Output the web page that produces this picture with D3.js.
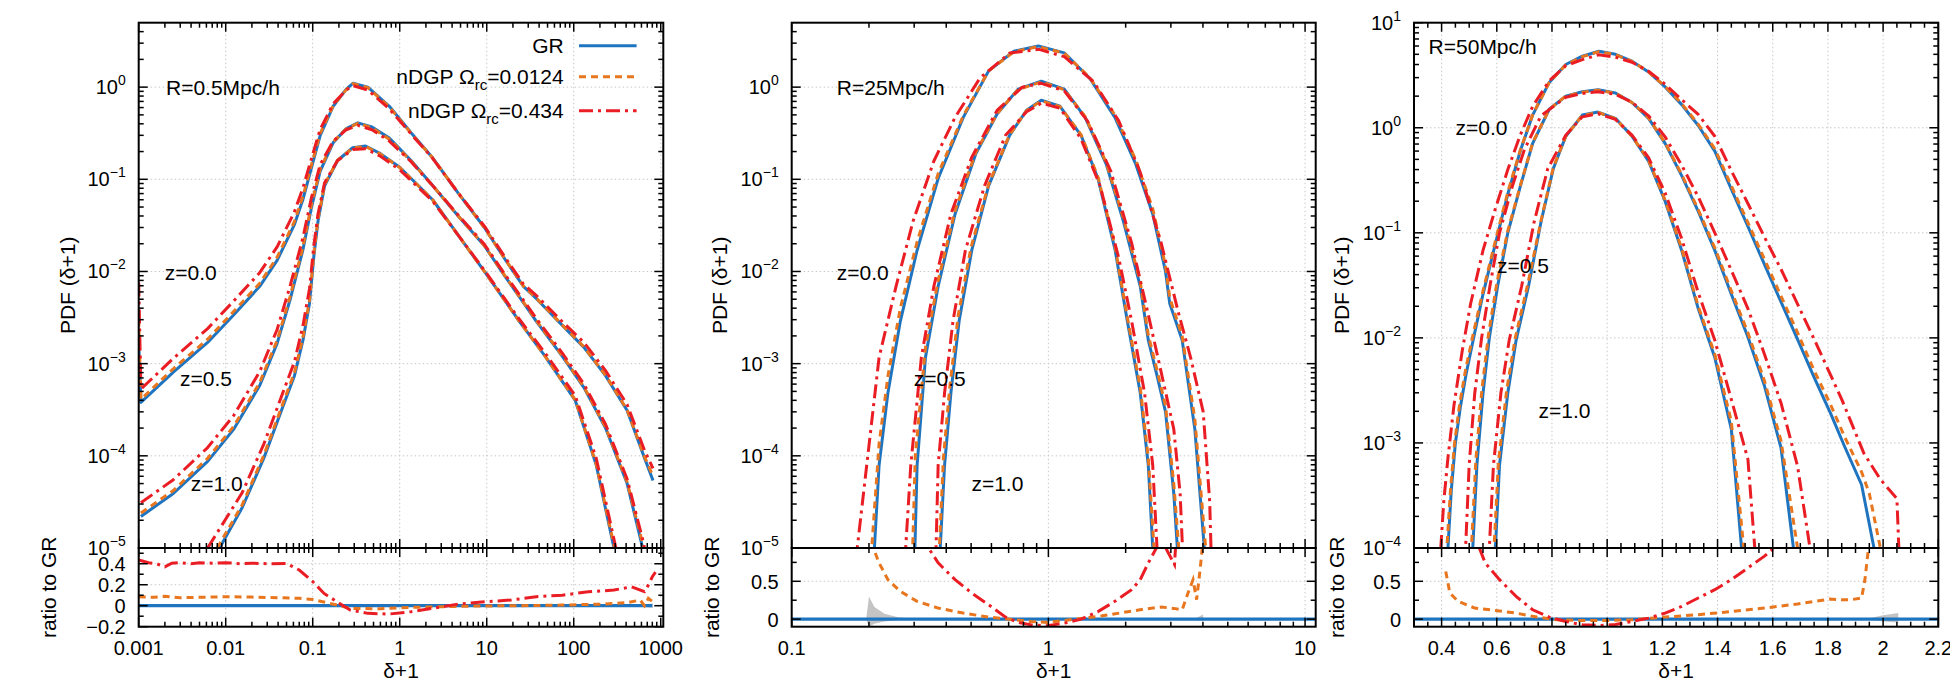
<!DOCTYPE html>
<html><head><meta charset="utf-8">
<script src="https://cdn.jsdelivr.net/npm/d3@7"></script>
<style>
body{margin:0;background:#fff}
svg{display:block}
text{font-family:"Liberation Sans",Arial,Helvetica,sans-serif;fill:#000}
</style></head>
<body><svg id="c" width="1950" height="682"></svg>
<script>
// ---------------- DATA ----------------
const seriesNames = ["GR", "nDGP Ω_rc=0.0124", "nDGP Ω_rc=0.434"];
const panelTitles = ["R=0.5Mpc/h", "R=25Mpc/h", "R=50Mpc/h"];
const zLabels = ["z=0.0", "z=0.5", "z=1.0"];

const p1_xticks = [0.001, 0.01, 0.1, 1, 10, 100, 1000];
const p1_xlabels = ["0.001", "0.01", "0.1", "1", "10", "100", "1000"];
const p2_xticks = [0.1, 1, 10];
const p2_xlabels = ["0.1", "1", "10"];
const p3_xticks = [0.4, 0.6, 0.8, 1, 1.2, 1.4, 1.6, 1.8, 2, 2.2];
const p3_xlabels = ["0.4", "0.6", "0.8", "1", "1.2", "1.4", "1.6", "1.8", "2", "2.2"];
const p12_yexp = [-5, -4, -3, -2, -1, 0];
const p3_yexp = [-4, -3, -2, -1, 0, 1];
const p1_rticks = [-0.2, 0, 0.2, 0.4];
const p1_rlabels = ["−0.2", "0", "0.2", "0.4"];
const p23_rticks = [0, 0.5];
const p23_rlabels = ["0", "0.5"];

// Panel 1 (R=0.5 Mpc/h): [delta+1, PDF]
const p1_z00_gr = [[0.001,1.7e-3],[0.00106,3.8e-4],[0.0025,8.1e-4],[0.0062,1.7e-3],[0.0124,3.4e-3],[0.0246,6.9e-3],[0.039,0.0132],[0.0614,0.032],[0.077,0.06],[0.097,0.135],[0.122,0.3],[0.172,0.62],[0.243,0.95],[0.29,1.1],[0.43,1.0],[0.76,0.62],[1.35,0.32],[2.4,0.17],[4.7,0.071],[9.4,0.03],[16.7,0.013],[26.4,6.9e-3],[37,5.1e-3],[74,2.6e-3],[131,1.5e-3],[232,7.4e-4],[411,3.1e-4],[650,9.5e-5],[815,5.4e-5]];
const p1_z00_n1 = [[0.001,3e-3],[0.00106,4.1e-4],[0.0025,8.8e-4],[0.0062,1.84e-3],[0.0124,3.7e-3],[0.0246,7.45e-3],[0.039,0.0143],[0.0614,0.0345],[0.077,0.065],[0.097,0.145],[0.122,0.315],[0.172,0.63],[0.243,0.94],[0.29,1.09],[0.43,0.985],[0.76,0.61],[1.35,0.316],[2.4,0.17],[4.7,0.071],[9.4,0.0298],[16.7,0.0131],[26.4,6.95e-3],[37,5.15e-3],[74,2.62e-3],[131,1.52e-3],[232,7.5e-4],[411,3.15e-4],[650,9.8e-5],[815,6e-5]];
const p1_z00_n2 = [[0.001,7.6e-3],[0.00106,5.3e-4],[0.0025,1.14e-3],[0.0062,2.4e-3],[0.0124,4.8e-3],[0.0246,9.7e-3],[0.039,0.0185],[0.0614,0.044],[0.077,0.08],[0.097,0.17],[0.122,0.35],[0.172,0.66],[0.243,0.93],[0.29,1.04],[0.43,0.93],[0.76,0.58],[1.35,0.31],[2.4,0.168],[4.7,0.071],[9.4,0.031],[16.7,0.0137],[26.4,7.3e-3],[37,5.5e-3],[74,2.85e-3],[131,1.7e-3],[232,8.4e-4],[411,3.6e-4],[650,1.15e-4],[815,7.3e-5]];
const p1_z05_gr = [[0.00106,2.2e-5],[0.0025,3.9e-5],[0.0062,8.7e-5],[0.0124,1.95e-4],[0.0246,5.8e-4],[0.039,1.66e-3],[0.0548,4.9e-3],[0.077,0.017],[0.097,0.05],[0.122,0.123],[0.172,0.25],[0.243,0.355],[0.33,0.41],[0.48,0.37],[0.76,0.28],[1.35,0.16],[2.4,0.085],[4.7,0.04],[9.4,0.019],[16.7,8.5e-3],[26.4,4.6e-3],[37,2.9e-3],[74,1.2e-3],[131,5.5e-4],[232,2e-4],[411,5e-5],[620,1e-5],[700,4e-6]];
const p1_z05_n1 = [[0.00106,2.4e-5],[0.0025,4.2e-5],[0.0062,9.4e-5],[0.0124,2.1e-4],[0.0246,6.25e-4],[0.039,1.79e-3],[0.0548,5.3e-3],[0.077,0.0183],[0.097,0.054],[0.122,0.13],[0.172,0.255],[0.243,0.353],[0.33,0.405],[0.48,0.362],[0.76,0.272],[1.35,0.158],[2.4,0.085],[4.7,0.04],[9.4,0.019],[16.7,8.6e-3],[26.4,4.65e-3],[37,2.95e-3],[74,1.22e-3],[131,5.6e-4],[232,2.05e-4],[411,5.2e-5],[630,1.05e-5],[710,4.2e-6]];
const p1_z05_n2 = [[0.00106,3.1e-5],[0.0025,5.5e-5],[0.0062,1.23e-4],[0.0124,2.75e-4],[0.0246,8.2e-4],[0.039,2.35e-3],[0.0548,6.9e-3],[0.077,0.023],[0.097,0.064],[0.122,0.145],[0.172,0.26],[0.243,0.345],[0.33,0.385],[0.48,0.345],[0.76,0.26],[1.35,0.155],[2.4,0.085],[4.7,0.041],[9.4,0.0197],[16.7,8.9e-3],[26.4,4.9e-3],[37,3.1e-3],[74,1.3e-3],[131,6e-4],[232,2.2e-4],[411,5.6e-5],[640,1.1e-5],[720,4.5e-6]];
const p1_z10_gr = [[0.0085,1e-5],[0.0155,2.75e-5],[0.0275,9.5e-5],[0.0437,3.1e-4],[0.0617,7.4e-4],[0.0773,1.8e-3],[0.0918,4.5e-3],[0.103,0.0145],[0.115,0.035],[0.137,0.085],[0.193,0.16],[0.288,0.22],[0.405,0.23],[0.6,0.19],[1.0,0.135],[2.39,0.06],[4.74,0.0245],[9.4,0.01],[23.6,2.9e-3],[47,1.2e-3],[104,4e-4],[181,8e-5],[290,1e-5],[320,4e-6]];
const p1_z10_n1 = [[0.008,1e-5],[0.0155,2.95e-5],[0.0275,1.02e-4],[0.0437,3.35e-4],[0.0617,8e-4],[0.0773,1.95e-3],[0.0918,4.85e-3],[0.103,0.0155],[0.115,0.037],[0.137,0.088],[0.193,0.161],[0.288,0.218],[0.405,0.227],[0.6,0.188],[1.0,0.134],[2.39,0.06],[4.74,0.0245],[9.4,0.01],[23.6,2.9e-3],[47,1.2e-3],[104,4.05e-4],[181,8.2e-5],[295,1e-5],[325,4e-6]];
const p1_z10_n2 = [[0.0062,1e-5],[0.0155,4e-5],[0.0275,1.35e-4],[0.0437,4.4e-4],[0.0617,1.05e-3],[0.0773,2.6e-3],[0.0918,6.5e-3],[0.103,0.019],[0.115,0.042],[0.137,0.092],[0.193,0.16],[0.288,0.21],[0.405,0.215],[0.6,0.178],[1.0,0.127],[2.39,0.058],[4.74,0.0245],[9.4,0.0103],[23.6,3.05e-3],[47,1.3e-3],[104,4.5e-4],[181,9.5e-5],[305,1e-5],[330,4e-6]];

// Panel 2 (R=25 Mpc/h)
const p2_z00_gr = [[0.205,1e-6],[0.21,1e-5],[0.219,7.9e-5],[0.237,4.8e-4],[0.265,2.9e-3],[0.308,0.017],[0.372,0.102],[0.466,0.47],[0.585,1.5],[0.734,2.45],[0.914,2.8],[1.153,2.35],[1.449,1.25],[1.816,0.47],[2.19,0.146],[2.55,0.042],[2.86,0.01],[2.97,4.5e-3],[3.32,1.8e-3],[3.72,1.95e-4],[4.05,1e-5],[4.1,1e-6]];
const p2_z00_n1 = [[0.2,1e-6],[0.205,1e-5],[0.219,1.35e-4],[0.237,7.3e-4],[0.265,4e-3],[0.308,0.021],[0.372,0.115],[0.466,0.49],[0.585,1.5],[0.734,2.42],[0.914,2.75],[1.153,2.33],[1.449,1.27],[1.816,0.5],[2.19,0.162],[2.55,0.048],[2.86,0.0115],[2.97,5.2e-3],[3.32,2e-3],[3.72,2.5e-4],[4.1,1e-5],[4.15,1e-6]];
const p2_z00_n2 = [[0.175,1e-6],[0.18,1e-5],[0.196,7.9e-5],[0.219,1.17e-3],[0.255,6.9e-3],[0.297,0.035],[0.358,0.158],[0.433,0.47],[0.542,1.26],[0.706,2.34],[0.92,2.57],[1.153,2.14],[1.5,1.15],[1.88,0.43],[2.27,0.123],[2.75,0.0204],[3.2,3.7e-3],[3.58,1.17e-3],[4.01,3e-4],[4.25,3.2e-5],[4.3,1e-5],[4.35,1e-6]];
const p2_z05_gr = [[0.298,1e-6],[0.302,1e-5],[0.308,7.9e-5],[0.332,1.17e-3],[0.372,6.9e-3],[0.433,0.042],[0.522,0.19],[0.631,0.51],[0.762,0.95],[0.938,1.16],[1.153,0.95],[1.39,0.47],[1.68,0.146],[1.96,0.035],[2.28,6.9e-3],[2.45,1.8e-3],[2.65,7.4e-4],[2.86,3e-4],[3.08,3.9e-5],[3.18,1e-5],[3.22,1e-6]];
const p2_z05_n1 = [[0.292,1e-6],[0.296,1e-5],[0.303,1e-4],[0.332,1.5e-3],[0.372,8e-3],[0.433,0.046],[0.522,0.198],[0.631,0.515],[0.762,0.94],[0.938,1.14],[1.153,0.94],[1.39,0.48],[1.68,0.152],[1.96,0.038],[2.28,7.7e-3],[2.45,2.05e-3],[2.65,8.5e-4],[2.86,3.5e-4],[3.08,5e-5],[3.22,1e-5],[3.26,1e-6]];
const p2_z05_n2 = [[0.275,1e-6],[0.278,1e-5],[0.291,7.9e-5],[0.32,1.17e-3],[0.358,6.9e-3],[0.417,0.042],[0.503,0.174],[0.631,0.56],[0.791,1.0],[0.938,1.1],[1.153,0.91],[1.42,0.43],[1.75,0.123],[2.11,0.0204],[2.45,3.4e-3],[2.75,8.1e-4],[3.08,1.95e-4],[3.26,3.9e-5],[3.33,1e-5],[3.38,1e-6]];
const p2_z10_gr = [[0.375,1e-6],[0.379,1e-5],[0.394,7.9e-5],[0.417,4.8e-4],[0.449,2.9e-3],[0.503,0.017],[0.585,0.085],[0.706,0.3],[0.822,0.56],[0.938,0.72],[1.11,0.62],[1.34,0.3],[1.56,0.102],[1.82,0.017],[2.03,2.9e-3],[2.28,4.8e-4],[2.45,7.9e-5],[2.55,1e-5],[2.6,1e-6]];
const p2_z10_n1 = [[0.372,1e-6],[0.376,1e-5],[0.39,9.5e-5],[0.413,5.6e-4],[0.445,3.3e-3],[0.5,0.0185],[0.585,0.088],[0.706,0.305],[0.822,0.555],[0.938,0.71],[1.11,0.615],[1.34,0.305],[1.56,0.106],[1.82,0.0185],[2.03,3.2e-3],[2.28,5.5e-4],[2.45,9.5e-5],[2.58,1e-5],[2.62,1e-6]];
const p2_z10_n2 = [[0.36,1e-6],[0.365,1e-5],[0.372,7.9e-5],[0.394,4.8e-4],[0.425,2.9e-3],[0.475,0.017],[0.564,0.085],[0.681,0.3],[0.822,0.54],[0.938,0.67],[1.11,0.59],[1.34,0.275],[1.59,0.085],[1.88,0.014],[2.11,2.9e-3],[2.37,4.8e-4],[2.55,7.9e-5],[2.65,1e-5],[2.7,1e-6]];

// Panel 3 (R=50 Mpc/h)
const p3_z00_gr = [[0.415,3e-5],[0.423,1e-4],[0.435,3.5e-4],[0.45,1e-3],[0.468,2.2e-3],[0.49,4.7e-3],[0.52,0.0112],[0.55,0.026],[0.595,0.079],[0.64,0.234],[0.685,0.6],[0.73,1.32],[0.79,2.7],[0.85,4.0],[0.91,4.8],[0.97,5.35],[1.03,5.0],[1.09,4.3],[1.15,3.4],[1.21,2.45],[1.27,1.66],[1.33,1.05],[1.39,0.6],[1.45,0.26],[1.51,0.115],[1.57,0.05],[1.63,0.022],[1.69,9.7e-3],[1.75,4.2e-3],[1.81,1.9e-3],[1.86,9.3e-4],[1.922,4e-4],[1.967,1e-4],[1.975,3e-5]];
const p3_z00_n1 = [[0.41,3e-5],[0.419,1e-4],[0.432,3.5e-4],[0.447,1e-3],[0.465,2.3e-3],[0.487,5e-3],[0.518,0.012],[0.55,0.028],[0.595,0.084],[0.64,0.245],[0.685,0.61],[0.73,1.33],[0.79,2.7],[0.85,3.97],[0.91,4.75],[0.97,5.3],[1.03,4.97],[1.09,4.28],[1.15,3.4],[1.21,2.47],[1.27,1.7],[1.33,1.08],[1.39,0.63],[1.45,0.28],[1.51,0.125],[1.57,0.056],[1.63,0.025],[1.69,0.0112],[1.75,4.9e-3],[1.81,2.3e-3],[1.86,1.15e-3],[1.922,5.3e-4],[1.95,3.3e-4],[1.99,1e-4],[2.0,3e-5]];
const p3_z00_n2 = [[0.39,3e-5],[0.397,1e-4],[0.408,2.8e-4],[0.423,7.2e-4],[0.445,2.3e-3],[0.475,7.6e-3],[0.505,0.021],[0.55,0.068],[0.595,0.17],[0.64,0.4],[0.685,0.85],[0.73,1.6],[0.79,2.8],[0.85,3.9],[0.91,4.45],[0.97,4.95],[1.03,4.7],[1.09,4.2],[1.15,3.45],[1.21,2.6],[1.27,1.85],[1.33,1.34],[1.39,0.83],[1.45,0.39],[1.51,0.19],[1.57,0.091],[1.63,0.045],[1.69,0.021],[1.765,8e-3],[1.85,2.6e-3],[1.93,8e-4],[1.99,4.5e-4],[2.05,2.95e-4],[2.057,1e-4],[2.06,3e-5]];
const p3_z05_gr = [[0.508,4e-5],[0.513,1e-4],[0.528,6.2e-4],[0.55,2.95e-3],[0.573,0.01],[0.603,0.031],[0.64,0.1],[0.685,0.275],[0.73,0.71],[0.79,1.5],[0.85,2.0],[0.91,2.2],[0.967,2.3],[1.03,2.14],[1.09,1.74],[1.15,1.23],[1.21,0.71],[1.27,0.35],[1.33,0.16],[1.39,0.068],[1.45,0.026],[1.51,0.0102],[1.57,3.5e-3],[1.63,9e-4],[1.675,1e-4],[1.68,4e-5]];
const p3_z05_n1 = [[0.503,4e-5],[0.508,1e-4],[0.524,6.8e-4],[0.546,3.2e-3],[0.57,0.0108],[0.6,0.033],[0.64,0.105],[0.685,0.28],[0.73,0.72],[0.79,1.5],[0.85,2.0],[0.91,2.18],[0.967,2.28],[1.03,2.13],[1.09,1.74],[1.15,1.24],[1.21,0.72],[1.27,0.36],[1.33,0.166],[1.39,0.072],[1.45,0.028],[1.51,0.0112],[1.57,3.9e-3],[1.63,1.05e-3],[1.69,1e-4],[1.695,4e-5]];
const p3_z05_n2 = [[0.48,4e-5],[0.487,1e-4],[0.5,6.2e-4],[0.52,2.95e-3],[0.545,0.01],[0.575,0.031],[0.61,0.1],[0.655,0.27],[0.7,0.62],[0.76,1.3],[0.85,1.95],[0.91,2.12],[0.967,2.2],[1.03,2.08],[1.09,1.75],[1.15,1.3],[1.21,0.82],[1.27,0.44],[1.33,0.22],[1.39,0.1],[1.45,0.044],[1.51,0.019],[1.57,7e-3],[1.63,2.4e-3],[1.69,6e-4],[1.735,1e-4],[1.74,4e-5]];
const p3_z10_gr = [[0.59,4e-5],[0.595,1e-4],[0.61,6.2e-4],[0.64,3e-3],[0.67,9.5e-3],[0.715,0.031],[0.76,0.126],[0.805,0.41],[0.85,0.83],[0.91,1.32],[0.967,1.41],[1.03,1.23],[1.09,0.83],[1.15,0.48],[1.21,0.2],[1.27,0.068],[1.33,0.019],[1.39,6.5e-3],[1.45,1.35e-3],[1.487,1e-4],[1.49,4e-5]];
const p3_z10_n1 = [[0.585,4e-5],[0.59,1e-4],[0.606,6.6e-4],[0.636,3.2e-3],[0.667,0.01],[0.713,0.033],[0.76,0.13],[0.805,0.42],[0.85,0.83],[0.91,1.31],[0.967,1.4],[1.03,1.22],[1.09,0.83],[1.15,0.49],[1.21,0.205],[1.27,0.071],[1.33,0.02],[1.39,7e-3],[1.45,1.6e-3],[1.495,1e-4],[1.5,4e-5]];
const p3_z10_n2 = [[0.568,4e-5],[0.573,1e-4],[0.588,6.2e-4],[0.615,3e-3],[0.645,9.5e-3],[0.69,0.031],[0.735,0.126],[0.785,0.41],[0.85,0.85],[0.91,1.27],[0.967,1.36],[1.03,1.2],[1.09,0.85],[1.15,0.52],[1.21,0.24],[1.27,0.088],[1.33,0.027],[1.39,9.5e-3],[1.45,2.6e-3],[1.51,7e-4],[1.535,1e-4],[1.54,4e-5]];

// Ratio-to-GR panels: [delta+1, ratio]
const p1_ratio_gr = [[0.001,0],[800,0]];
const p1_ratio_n1 = [[0.001,0.086],[0.0015,0.08],[0.002,0.09],[0.003,0.076],[0.005,0.08],[0.01,0.086],[0.02,0.082],[0.04,0.076],[0.07,0.07],[0.1,0.06],[0.13,0.038],[0.19,0.006],[0.27,-0.025],[0.6,-0.029],[1.35,-0.016],[3,-0.01],[7.4,-0.003],[23,0],[74,0.006],[230,0.016],[410,0.029],[580,0.054],[650,0.0],[720,0.07],[810,0.038]];
const p1_ratio_n2 = [[0.001,0.435],[0.0013,0.41],[0.0016,0.40],[0.002,0.37],[0.0024,0.405],[0.003,0.41],[0.004,0.40],[0.005,0.41],[0.007,0.405],[0.01,0.41],[0.015,0.40],[0.02,0.405],[0.03,0.40],[0.05,0.403],[0.07,0.34],[0.1,0.23],[0.135,0.117],[0.19,0.038],[0.27,-0.041],[0.43,-0.073],[0.76,-0.079],[1.35,-0.057],[2.4,-0.025],[4.7,0.016],[9.4,0.038],[19,0.054],[37,0.086],[74,0.1],[147,0.133],[290,0.149],[460,0.181],[650,0.133],[720,0.197],[800,0.276],[870,0.32]];
const p1_band = [[300,0,0],[600,-0.01,0.012],[810,-0.02,0.02]];
const p2_ratio_gr = [[0.1,0],[11,0]];
const p2_ratio_n1 = [[0.2,1.5],[0.207,0.956],[0.219,0.743],[0.237,0.522],[0.265,0.367],[0.308,0.235],[0.372,0.146],[0.466,0.08],[0.585,0.027],[0.706,0],[0.853,-0.031],[0.99,-0.044],[1.154,-0.018],[1.343,0.009],[1.62,0.044],[1.96,0.088],[2.37,0.133],[2.75,0.16],[3.08,0.142],[3.32,0.124],[3.5,0.345],[3.66,0.52],[3.78,0.257],[3.9,0.655],[3.98,0.956],[4.05,1.5]];
const p2_ratio_n2 = [[0.32,1.5],[0.339,0.956],[0.372,0.743],[0.433,0.522],[0.503,0.345],[0.585,0.19],[0.681,0.027],[0.762,-0.044],[0.853,-0.075],[0.99,-0.088],[1.154,-0.053],[1.343,0],[1.56,0.1],[1.816,0.235],[2.11,0.39],[2.28,0.522],[2.45,0.743],[2.65,0.956],[2.75,1.6],[2.85,0.956],[3.1,0.72],[3.2,1.5]];
const p2_band_a = [[0.195,0,0],[0.2,-0.1,0.3],[0.21,-0.06,0.16],[0.23,-0.03,0.07],[0.26,-0.01,0.025],[0.3,0,0.005]];
const p2_band_b = [[3.7,0,0],[4.0,-0.02,0.06],[4.02,0,0]];
const p3_ratio_gr = [[0.3,0],[2.2,0]];
const p3_ratio_n1 = [[0.415,0.63],[0.43,0.345],[0.46,0.235],[0.52,0.146],[0.595,0.115],[0.67,0.08],[0.745,0.027],[0.82,-0.009],[0.91,-0.018],[1.0,-0.018],[1.09,-0.009],[1.21,0.027],[1.33,0.058],[1.45,0.1],[1.57,0.146],[1.69,0.2],[1.807,0.265],[1.85,0.255],[1.88,0.255],[1.922,0.278],[1.934,0.519],[1.945,0.874],[1.952,1.1]];
const p3_ratio_n2 = [[0.52,1.3],[0.535,0.956],[0.558,0.743],[0.61,0.522],[0.67,0.301],[0.73,0.124],[0.79,0.027],[0.85,-0.031],[0.91,-0.075],[0.97,-0.084],[1.03,-0.071],[1.09,-0.031],[1.15,0.013],[1.21,0.08],[1.27,0.168],[1.33,0.279],[1.39,0.389],[1.45,0.522],[1.51,0.677],[1.57,0.832],[1.64,1.05]];
const p3_band = [[1.934,0,0],[2.0,-0.03,0.05],[2.055,-0.045,0.08]];

// ---------------- LAYOUT / STYLE ----------------
const TOP = 22.7, MID = 548, BOT = 626.7;
const COL = ["#1f74c0", "#e8761e", "#ea1d24"];
const DASH = [null, "7,5", "14,5,3,5"];
const FS = 21;

const panels = [
  {id:1, left:138.7, right:663.3, xlog:true, xdom:[0.001,1070], xt:p1_xticks, xl:p1_xlabels,
   ydom:[1e-5,5], yexp:p12_yexp, rdom:[-0.2,0.55], rt:p1_rticks, rl:p1_rlabels, rminor:0.1,
   curves:[[p1_z00_gr,p1_z00_n1,p1_z00_n2],[p1_z05_gr,p1_z05_n1,p1_z05_n2],[p1_z10_gr,p1_z10_n1,p1_z10_n2]],
   ratios:[p1_ratio_gr,p1_ratio_n1,p1_ratio_n2], bands:[p1_band],
   title:[166,95], zpos:[[164.8,280],[180,386],[190.8,491]], pdfX:67, ratX:48},
  {id:2, left:791.7, right:1315.7, xlog:true, xdom:[0.1,11], xt:p2_xticks, xl:p2_xlabels,
   ydom:[1e-5,5], yexp:p12_yexp, rdom:[-0.1,0.94], rt:p23_rticks, rl:p23_rlabels, rminor:0.25,
   curves:[[p2_z00_gr,p2_z00_n1,p2_z00_n2],[p2_z05_gr,p2_z05_n1,p2_z05_n2],[p2_z10_gr,p2_z10_n1,p2_z10_n2]],
   ratios:[p2_ratio_gr,p2_ratio_n1,p2_ratio_n2], bands:[p2_band_a,p2_band_b],
   title:[836.8,95], zpos:[[836.8,280],[913.8,386],[971.4,491]], pdfX:719, ratX:711},
  {id:3, left:1414, right:1938.3, xlog:false, xdom:[0.3,2.2], xt:p3_xticks, xl:p3_xlabels,
   ydom:[1e-4,10], yexp:p3_yexp, rdom:[-0.1,0.94], rt:p23_rticks, rl:p23_rlabels, rminor:0.25,
   curves:[[p3_z00_gr,p3_z00_n1,p3_z00_n2],[p3_z05_gr,p3_z05_n1,p3_z05_n2],[p3_z10_gr,p3_z10_n1,p3_z10_n2]],
   ratios:[p3_ratio_gr,p3_ratio_n1,p3_ratio_n2], bands:[p3_band],
   title:[1428.6,54], zpos:[[1455.6,135],[1497,273],[1538.6,418]], pdfX:1341.5, ratX:1336}
];

const svg = d3.select("#c");
svg.append("rect").attr("width",1950).attr("height",682).attr("fill","#fff");
const defs = svg.append("defs");

function line(g,x1,y1,x2,y2,w,c,dash){
  const l = g.append("line").attr("x1",x1).attr("y1",y1).attr("x2",x2).attr("y2",y2)
    .attr("stroke",c||"#000").attr("stroke-width",w||1.5);
  if(dash) l.attr("stroke-dasharray",dash);
  return l;
}

panels.forEach((p,pi)=>{
  const g = svg.append("g");
  const x = (p.xlog ? d3.scaleLog() : d3.scaleLinear()).domain(p.xdom).range([p.left,p.right]);
  const ym = d3.scaleLog().domain(p.ydom).range([MID,TOP]);
  const yr = d3.scaleLinear().domain(p.rdom).range([BOT,MID]);
  const W = p.right-p.left;

  defs.append("clipPath").attr("id","cm"+p.id).append("rect")
    .attr("x",p.left).attr("y",TOP).attr("width",W).attr("height",MID-TOP);
  defs.append("clipPath").attr("id","cr"+p.id).append("rect")
    .attr("x",p.left).attr("y",MID).attr("width",W).attr("height",BOT-MID);

  // grid
  const gg = g.append("g");
  p.xt.forEach(v=>{const px=x(v); if(px>p.left+2 && px<p.right-2){
    line(gg,px,TOP,px,MID,1,"#c8c8c8","1.5,2.5"); line(gg,px,MID,px,BOT,1,"#c8c8c8","1.5,2.5");}});
  p.yexp.forEach(e=>{const py=ym(Math.pow(10,e)); if(py>TOP+2 && py<MID-2) line(gg,p.left,py,p.right,py,1,"#c8c8c8","1.5,2.5");});
  p.rt.forEach(v=>{const py=yr(v); if(py>MID+2 && py<BOT-2) line(gg,p.left,py,p.right,py,1,"#c8c8c8","1.5,2.5");});

  // ratio bands and curves
  const gr = g.append("g").attr("clip-path","url(#cr"+p.id+")");
  p.bands.forEach(b=>{
    gr.append("path").datum(b).attr("fill","#c4c4c4").attr("stroke","none")
      .attr("d", d3.area().x(d=>x(d[0])).y0(d=>yr(d[1])).y1(d=>yr(d[2])));
  });
  const rl = d3.line().x(d=>x(d[0])).y(d=>yr(d[1]));
  p.ratios.forEach((r,si)=>{
    const pa = gr.append("path").datum(r).attr("fill","none").attr("stroke",COL[si])
      .attr("stroke-width",si===0?3.2:3).attr("d",rl);
    if(DASH[si]) pa.attr("stroke-dasharray",DASH[si]);
  });

  // main curves
  const gm = g.append("g").attr("clip-path","url(#cm"+p.id+")");
  const ml = d3.line().x(d=>x(d[0])).y(d=>ym(d[1]));
  p.curves.forEach(zs=>{
    zs.forEach((c,si)=>{
      const pa = gm.append("path").datum(c).attr("fill","none").attr("stroke",COL[si])
        .attr("stroke-width",3).attr("stroke-linejoin","round").attr("d",ml);
      if(DASH[si]) pa.attr("stroke-dasharray",DASH[si]);
    });
  });

  // frames
  const gf = g.append("g");
  gf.append("rect").attr("x",p.left).attr("y",TOP).attr("width",W).attr("height",MID-TOP)
    .attr("fill","none").attr("stroke","#000").attr("stroke-width",2);
  gf.append("rect").attr("x",p.left).attr("y",MID).attr("width",W).attr("height",BOT-MID)
    .attr("fill","none").attr("stroke","#000").attr("stroke-width",2);

  const MJ=9, MN=5;
  let xmin = [];
  if(p.xlog){
    const e0=Math.floor(Math.log10(p.xdom[0])), e1=Math.ceil(Math.log10(p.xdom[1]));
    for(let e=e0;e<e1;e++) for(let m=2;m<=9;m++){const v=m*Math.pow(10,e); if(v>p.xdom[0]&&v<p.xdom[1]) xmin.push(v);}
  } else {
    for(let k=6;k<44;k++){const v=k*0.05; if(!p.xt.some(t=>Math.abs(t-v)<1e-6)) xmin.push(v);}
  }
  const xtick=(v,len)=>{const px=x(v);
    line(gf,px,MID,px,MID-len,1.5); line(gf,px,TOP,px,TOP+len,1.5);
    line(gf,px,MID,px,MID+len,1.5); line(gf,px,BOT,px,BOT-len,1.5);};
  p.xt.forEach(v=>xtick(v,MJ)); xmin.forEach(v=>xtick(v,MN));
  const ytick=(py,len)=>{line(gf,p.left,py,p.left+len,py,1.5); line(gf,p.right,py,p.right-len,py,1.5);};
  p.yexp.forEach(e=>ytick(ym(Math.pow(10,e)),MJ));
  for(let e=p.yexp[0]-1;e<=p.yexp[p.yexp.length-1];e++) for(let m=2;m<=9;m++){
    const v=m*Math.pow(10,e); if(v>p.ydom[0]&&v<p.ydom[1]) ytick(ym(v),MN);}
  p.rt.forEach(v=>ytick(yr(v),MJ));
  for(let k=-10;k<=20;k++){const v=k*p.rminor;
    if(v>p.rdom[0]+1e-6 && v<p.rdom[1]-1e-6 && !p.rt.some(t=>Math.abs(t-v)<1e-6)) ytick(yr(v),MN);}

  // tick labels
  const gt = g.append("g").attr("font-size",20);
  p.xt.forEach((v,i)=>gt.append("text").attr("x",x(v)).attr("y",655).attr("text-anchor","middle").text(p.xl[i]));
  p.yexp.forEach(e=>{
    const t = gt.append("text").attr("x",p.left-13).attr("y",ym(Math.pow(10,e))+7).attr("text-anchor","end");
    t.append("tspan").text("10");
    t.append("tspan").attr("dy",-9).attr("font-size",14).text(e<0?"−"+(-e):String(e));
  });
  p.rt.forEach((v,i)=>gt.append("text").attr("x",p.left-13).attr("y",yr(v)+7.5).attr("text-anchor","end").text(p.rl[i]));

  // axis titles
  g.append("text").attr("transform","translate("+p.pdfX+","+((TOP+MID)/2)+") rotate(-90)")
    .attr("text-anchor","middle").attr("dy","0.36em").attr("font-size",FS).text("PDF (δ+1)");
  g.append("text").attr("transform","translate("+p.ratX+","+((MID+BOT)/2)+") rotate(-90)")
    .attr("text-anchor","middle").attr("dy","0.36em").attr("font-size",FS).text("ratio to GR");
  g.append("text").attr("x",(p.left+p.right)/2).attr("y",678).attr("text-anchor","middle")
    .attr("font-size",FS).text("δ+1");

  // in-plot labels
  g.append("text").attr("x",p.title[0]).attr("y",p.title[1]).attr("font-size",FS).text(panelTitles[pi]);
  p.zpos.forEach((zp,i)=>g.append("text").attr("x",zp[0]).attr("y",zp[1]).attr("font-size",FS).text(zLabels[i]));
});

// legend (panel 1)
const lg = svg.append("g");
const legY = [45.7, 76.8, 110.7];
seriesNames.forEach((s,i)=>{
  const t = lg.append("text").attr("x",563.7).attr("y",legY[i]+7.5).attr("text-anchor","end").attr("font-size",FS);
  if(i===0){ t.text(s); }
  else {
    const parts = s.split("_rc");
    t.append("tspan").text(parts[0]);
    t.append("tspan").attr("dy",6).attr("font-size",15).text("rc");
    t.append("tspan").attr("dy",-6).text(parts[1]);
  }
  const l = line(lg,579,legY[i],636.6,legY[i],3,COL[i]);
  if(DASH[i]) l.attr("stroke-dasharray",DASH[i]);
});
</script>
</body></html>
